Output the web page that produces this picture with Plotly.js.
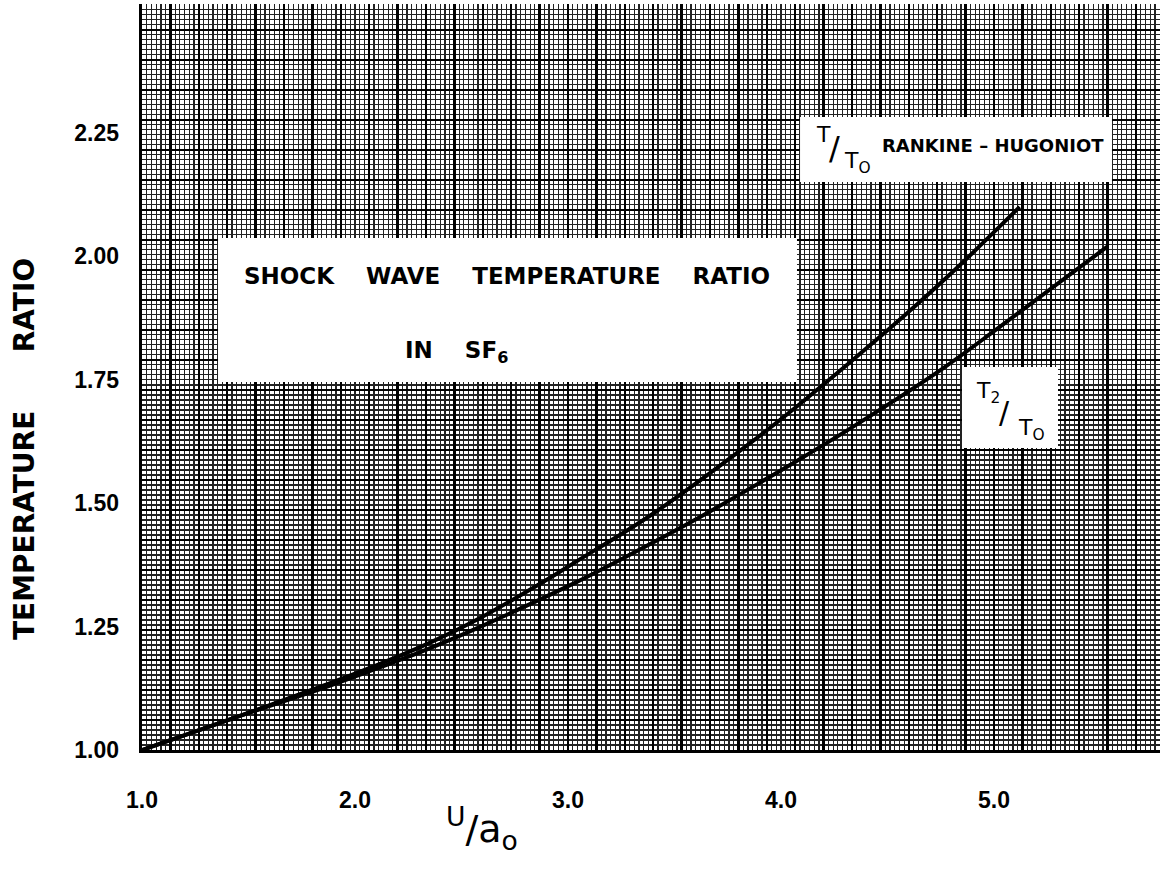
<!DOCTYPE html>
<html>
<head>
<meta charset="utf-8">
<script src="https://cdn.plot.ly/plotly-3.0.1.min.js"></script>
<style>html,body{margin:0;padding:0;background:#fff;}#chart{width:1160px;height:876px;}</style>
</head>
<body>
<div id="chart"></div>
<script>
// Data
const uRH = [1.00, 1.50, 1.88, 2.12, 2.35, 2.59, 2.92, 3.04, 3.39, 3.85, 4.10, 4.50, 4.79, 5.12];
const tRH = [1.000, 1.075, 1.135, 1.175, 1.217, 1.268, 1.350, 1.382, 1.476, 1.620, 1.705, 1.850, 1.962, 2.100];
const uT2 = [1.00, 1.50, 1.88, 2.12, 2.35, 2.59, 3.02, 3.23, 3.62, 4.06, 4.32, 4.75, 5.03, 5.53];
const tT2 = [1.000, 1.075, 1.130, 1.168, 1.206, 1.250, 1.336, 1.382, 1.472, 1.582, 1.650, 1.770, 1.858, 2.019];
const xTickVals = [1, 2, 3, 4, 5];
const xTickText = ['1.0', '2.0', '3.0', '4.0', '5.0'];
const yTickVals = [1.00, 1.25, 1.50, 1.75, 2.00, 2.25];
const yTickText = ['1.00', '1.25', '1.50', '1.75', '2.00', '2.25'];

const XR = [1, 5.779];
const YR = [1, 2.511];
const nb = n => '\u00a0'.repeat(n);
const BOLD = {family: 'DejaVu Sans', weight: 'bold', color: '#000'};
const REG = {family: 'DejaVu Sans', color: '#000'};
const TICKF = {family: 'Liberation Sans', weight: 'bold', color: '#000', size: 23};

const traces = [
  {x: uRH, y: tRH, xaxis: 'x', yaxis: 'y', mode: 'lines', name: 'T/T0 Rankine-Hugoniot',
   line: {color: '#000', width: 4, shape: 'spline', smoothing: 1}, hoverinfo: 'x+y'},
  {x: uT2, y: tT2, xaxis: 'x2', yaxis: 'y2', mode: 'lines', name: 'T2/T0',
   line: {color: '#000', width: 4, shape: 'spline', smoothing: 1}, hoverinfo: 'x+y'}
];

function ann(x, y, text, font, extra) {
  return Object.assign({xref: 'paper', yref: 'paper', x: x, y: y, xanchor: 'center', yanchor: 'middle',
                        showarrow: false, text: text, font: font}, extra || {});
}

const layout = {
  width: 1160, height: 876,
  margin: {l: 142, r: 0, t: 4, b: 126},
  paper_bgcolor: '#fff', plot_bgcolor: '#fff',
  showlegend: false,
  xaxis: {
    range: XR, showgrid: true, tick0: 1, dtick: 0.13333, gridcolor: '#000', gridwidth: 2.4,
    minor: {tick0: 1, dtick: 0.022222, showgrid: true, gridcolor: '#222', gridwidth: 1.2},
    showticklabels: false, ticks: '', zeroline: false,
    showline: true, linecolor: '#000', linewidth: 3
  },
  yaxis: {
    range: YR, showgrid: true, tick0: 1, dtick: 0.06078, gridcolor: '#000', gridwidth: 2.4,
    minor: {tick0: 1, dtick: 0.01013, showgrid: true, gridcolor: '#222', gridwidth: 1.2},
    showticklabels: false, ticks: '', zeroline: false,
    showline: true, linecolor: '#000', linewidth: 3
  },
  xaxis2: {
    overlaying: 'x', anchor: 'y2', range: XR, showgrid: false, zeroline: false, ticks: '',
    tickvals: xTickVals, ticktext: xTickText, ticklabelstandoff: 34, tickfont: TICKF
  },
  yaxis2: {
    overlaying: 'y', anchor: 'x2', range: YR, showgrid: false, zeroline: false, ticks: '',
    tickvals: yTickVals, ticktext: yTickText, ticklabelstandoff: 22, tickfont: TICKF
  },
  shapes: [
    {type: 'rect', xref: 'paper', yref: 'paper', x0: 0.0747, x1: 0.6434, y0: 0.4933, y1: 0.6863,
     fillcolor: '#fff', line: {width: 0}, layer: 'above'},
    {type: 'rect', xref: 'paper', yref: 'paper', x0: 0.6464, x1: 0.9528, y0: 0.7614, y1: 0.8485,
     fillcolor: '#fff', line: {width: 0}, layer: 'above'},
    {type: 'rect', xref: 'paper', yref: 'paper', x0: 0.8055, x1: 0.8998, y0: 0.4048, y1: 0.5134,
     fillcolor: '#fff', line: {width: 0}, layer: 'above'}
  ],
  annotations: [
    ann(-0.1149, 0.4035, 'TEMPERATURE' + nb(6) + 'RATIO', Object.assign({size: 28}, BOLD), {textangle: -90}),
    ann(0.3585, 0.6354, 'SHOCK' + nb(4) + 'WAVE' + nb(4) + 'TEMPERATURE' + nb(4) + 'RATIO',
        Object.assign({size: 23}, BOLD)),
    ann(0.3094, 0.5335, 'IN' + nb(4) + 'SF<sub>6</sub>', Object.assign({size: 23}, BOLD)),
    ann(0.6699, 0.8244, 'T', Object.assign({size: 22}, REG)),
    ann(0.6798, 0.8070, '/', Object.assign({size: 32}, REG)),
    ann(0.7024, 0.7870, 'T<sub>O</sub>', Object.assign({size: 22}, REG)),
    ann(0.836, 0.8097, 'RANKINE \u2013 HUGONIOT', Object.assign({size: 18}, BOLD)),
    ann(0.8310, 0.4786, 'T<sub>2</sub>', Object.assign({size: 22}, REG)),
    ann(0.8468, 0.4530, '/', Object.assign({size: 30}, REG)),
    ann(0.8733, 0.4290, 'T<sub>O</sub>', Object.assign({size: 22}, REG)),
    ann(0.334, -0.1046, '<sup>U</sup>/a<sub>o</sub>', Object.assign({size: 38}, REG))
  ]
};

Plotly.newPlot('chart', traces, layout, {staticPlot: true, displayModeBar: false});
</script>
</body>
</html>
